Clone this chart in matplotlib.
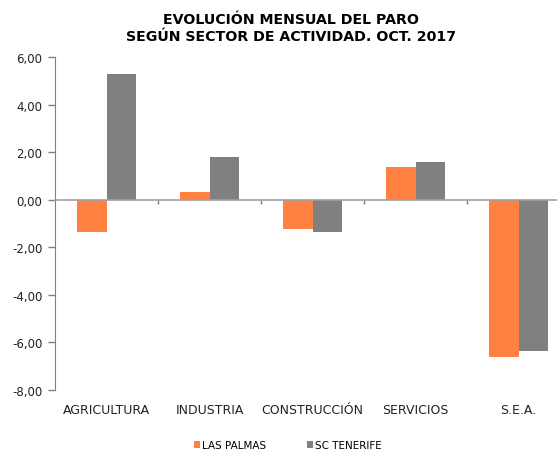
import matplotlib.pyplot as plt
import numpy as np
from matplotlib.ticker import FuncFormatter
import matplotlib.transforms as mtransforms

categorias = ['AGRICULTURA', 'INDUSTRIA', 'CONSTRUCCIÓN', 'SERVICIOS', 'S.E.A.']
las_palmas = [-1.35, 0.33, -1.25, 1.38, -6.6]
sc_tenerife = [5.3, 1.8, -1.35, 1.6, -6.35]
y_ticks = [-8, -6, -4, -2, 0, 2, 4, 6]

plt.rcParams['font.family'] = ['DejaVu Sans']

fig = plt.figure(figsize=(5.57, 4.52), dpi=100)
# plot area runs past the right edge of the picture (as in the original)
ax = fig.add_axes([55/557, 1-391/452, 515/557, 333/452])

x = np.arange(len(categorias))
w = 0.286
ax.bar(x - w/2, las_palmas, w, color='#FF8040', label='LAS PALMAS')
ax.bar(x + w/2, sc_tenerife, w, color='#808080', label='SC TENERIFE')

ax.set_xlim(-0.5, len(categorias) - 0.5)
ax.set_ylim(-8, 6)
ax.set_yticks(y_ticks)
ax.yaxis.set_major_formatter(FuncFormatter(lambda v, p: f'{v:.2f}'.replace('.', ',')))
ax.tick_params(axis='y', length=5, width=1, color='#808080', labelsize=8.5, pad=4, labelcolor='#222222')

for s in ['top', 'right']:
    ax.spines[s].set_visible(False)
ax.spines['left'].set_color('#808080')
ax.spines['bottom'].set_position(('data', 0))
ax.spines['bottom'].set_color('#A0A0A0')
ax.spines['bottom'].set_linewidth(1.2)
ax.set_xticks([])
ax.set_xticks(np.arange(0.5, len(categorias) - 0.5), minor=True)
ax.tick_params(axis='x', which='minor', length=3, width=1, color='#808080', direction='out', labelbottom=False)

trans = mtransforms.blended_transform_factory(ax.transData, ax.transAxes)
for i, c in enumerate(categorias):
    ax.text(i, -0.06, c, transform=trans, ha='center', va='center', fontsize=9, color='#222222')

fig.text(291/557, 1-28.5/452, 'EVOLUCIÓN MENSUAL DEL PARO\nSEGÚN SECTOR DE ACTIVIDAD. OCT. 2017',
         ha='center', va='center', fontsize=10.2, fontweight='bold', linespacing=1.2)

fig.legend(loc='center', bbox_to_anchor=(288/557, 1-446/452), ncol=2, frameon=False,
           fontsize=7.5, handlelength=0.6, handleheight=0.6, handletextpad=0.2, columnspacing=3.9)

fig.savefig('out.png', dpi=100)
